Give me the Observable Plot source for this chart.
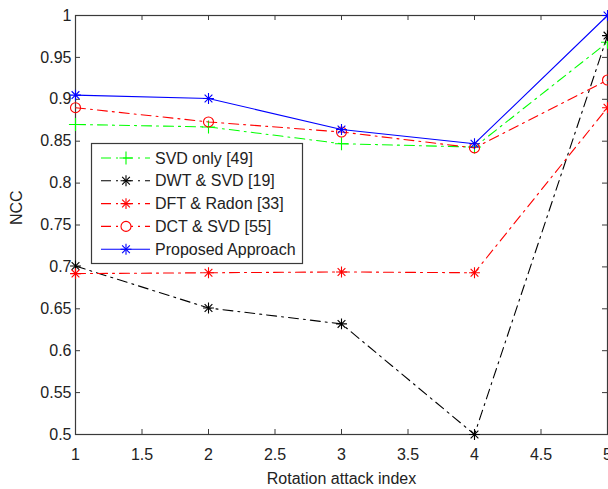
<!DOCTYPE html>
<html><head><meta charset="utf-8">
<script src="https://cdn.jsdelivr.net/npm/d3@7"></script>
<script src="https://cdn.jsdelivr.net/npm/@observablehq/plot@0.6"></script>
<style>
html,body{margin:0;padding:0;background:#fff;}
#chart{position:relative;width:608px;height:489px;overflow:hidden;}
#chart svg{display:block;}
#legend{position:absolute;left:0;top:0;pointer-events:none;}
</style></head><body><div id="chart"></div>
<script>
// ---- data ----
const attackIndex = [1, 2, 3, 4, 5];
const svdOnly   = [0.870, 0.867, 0.847, 0.843, 0.968];
const dwtSvd    = [0.701, 0.651, 0.632, 0.500, 0.976];
const dftRadon  = [0.692, 0.693, 0.694, 0.693, 0.890];
const dctSvd    = [0.890, 0.873, 0.861, 0.842, 0.923];
const proposed  = [0.905, 0.901, 0.864, 0.847, 1.000];

const seriesNames   = ["SVD only [49]", "DWT & SVD [19]", "DFT & Radon [33]", "DCT & SVD [55]", "Proposed Approach"];
const seriesValues  = [svdOnly, dwtSvd, dftRadon, dctSvd, proposed];
const seriesColors  = ["#00ff00", "#000000", "#ff0000", "#ff0000", "#0000ff"];
const seriesMarkers = ["plus", "star", "star", "circle", "star"];
const seriesDashed  = [true, true, true, true, false];

const xTicks = [1, 1.5, 2, 2.5, 3, 3.5, 4, 4.5, 5];
const yTicks = [0.5, 0.55, 0.6, 0.65, 0.7, 0.75, 0.8, 0.85, 0.9, 0.95, 1];
const xLabel = "Rotation attack index";
const yLabel = "NCC";

// ---- layout ----
const W = 608, H = 489, mL = 75, mR = 1, mT = 15, mB = 55;
const plotW = W - mL - mR, plotH = H - mT - mB;
const tickLen = 5;
const DASH = "10,5,2,5";
const FONT = "Liberation Sans, Arial, sans-serif";
const axisColor = "#3a3a3a";
const textColor = "#222";

const rows = seriesNames.flatMap((name, i) =>
  attackIndex.map((x, j) => ({series: name, idx: i, x, y: seriesValues[i][j]})));

const marks = [];
seriesNames.forEach((name, i) => {
  const data = rows.filter(d => d.idx === i);
  marks.push(Plot.line(data, {
    x: "x", y: "y", stroke: seriesColors[i], strokeWidth: 1.1,
    strokeDasharray: seriesDashed[i] ? DASH : null
  }));
  const m = seriesMarkers[i];
  if (m === "plus") {
    marks.push(Plot.dot(data, {x: "x", y: "y", symbol: "plus", r: 4.3, stroke: seriesColors[i], strokeWidth: 1.1}));
  } else if (m === "star") {
    marks.push(Plot.dot(data, {x: "x", y: "y", symbol: "plus", r: 3.6, stroke: seriesColors[i], strokeWidth: 1.1}));
    marks.push(Plot.dot(data, {x: "x", y: "y", symbol: "times", r: 3.6, stroke: seriesColors[i], strokeWidth: 1.1}));
  } else {
    marks.push(Plot.dot(data, {x: "x", y: "y", symbol: "circle", r: 5, stroke: seriesColors[i], fill: "none", strokeWidth: 1.1}));
  }
});

const chart = Plot.plot({
  width: W, height: H,
  marginLeft: mL, marginRight: mR, marginTop: mT, marginBottom: mB,
  style: {fontFamily: FONT, fontSize: "16px", color: textColor, background: "#fff"},
  x: {domain: [1, 5]},
  y: {domain: [0.5, 1]},
  marks: [
    Plot.frame({stroke: axisColor, strokeWidth: 1.2}),
    // inward ticks on all four sides
    Plot.tickX(xTicks, {x: d => d, insetTop: plotH - tickLen, stroke: axisColor}),
    Plot.tickX(xTicks, {x: d => d, insetBottom: plotH - tickLen, stroke: axisColor}),
    Plot.tickY(yTicks, {y: d => d, insetRight: plotW - tickLen, stroke: axisColor}),
    Plot.tickY(yTicks, {y: d => d, insetLeft: plotW - tickLen, stroke: axisColor}),
    Plot.axisX(xTicks, {anchor: "bottom", tickSize: 0, tickPadding: 14, label: null,
      tickFormat: d => String(d), fontSize: 16, fill: textColor}),
    Plot.axisY(yTicks, {anchor: "left", tickSize: 0, tickPadding: 4, label: null,
      tickFormat: d => String(d), fontSize: 16, fill: textColor}),
    Plot.text([xLabel], {text: d => d, frameAnchor: "bottom", dy: 49, fontSize: 16, fill: textColor}),
    Plot.text([yLabel], {text: d => d, frameAnchor: "left", dx: -59, rotate: -90, fontSize: 16, fill: textColor}),
    ...marks
  ]
});
const host = document.getElementById("chart");
host.appendChild(chart);

// ---- legend overlay ----
const lg = d3.select(host).append("svg").attr("id", "legend")
  .attr("width", W).attr("height", H);
const box = {x: 91.5, y: 143.5, w: 211, h: 120};
lg.append("rect").attr("x", box.x).attr("y", box.y).attr("width", box.w).attr("height", box.h)
  .attr("fill", "#fff").attr("stroke", axisColor).attr("stroke-width", 1.2);
const symSize = r => r * r * Math.PI;
seriesNames.forEach((name, i) => {
  const cy = 158 + i * 22.8;
  const g = lg.append("g");
  g.append("line").attr("x1", 101).attr("x2", 150).attr("y1", cy).attr("y2", cy)
    .attr("stroke", seriesColors[i]).attr("stroke-width", 1.1)
    .attr("stroke-dasharray", seriesDashed[i] ? DASH : null);
  const mg = g.append("g").attr("transform", `translate(126,${cy})`)
    .attr("fill", "none").attr("stroke", seriesColors[i]).attr("stroke-width", 1.1);
  const m = seriesMarkers[i];
  if (m === "plus") {
    mg.append("path").attr("d", d3.symbol(d3.symbolPlus, symSize(4.3))());
  } else if (m === "star") {
    mg.append("path").attr("d", d3.symbol(d3.symbolPlus, symSize(3.6))());
    mg.append("path").attr("d", d3.symbol(d3.symbolTimes, symSize(3.6))());
  } else {
    mg.append("path").attr("d", d3.symbol(d3.symbolCircle, symSize(5))())
      .attr("fill", "#fff");
  }
  g.append("text").attr("x", 155).attr("y", cy).attr("dy", "0.35em")
    .attr("font-family", FONT).attr("font-size", 16).attr("fill", textColor).text(name);
});
</script></body></html>
